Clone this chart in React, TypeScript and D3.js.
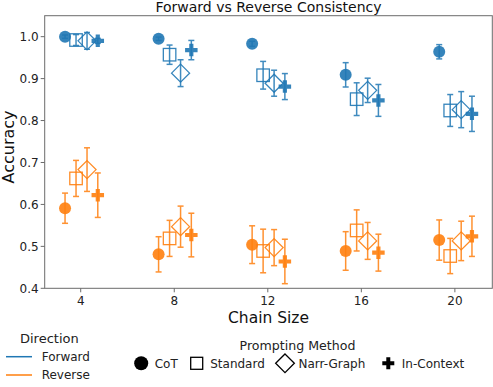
import React from 'react';
import * as d3 from 'd3';

const sizes = [4, 8, 12, 16, 20];
const methods = ['CoT', 'Standard', 'Narr-Graph', 'In-Context'];
const offsets = [-0.67, -0.2, 0.27, 0.73];

const forwardMean = [
  [1.0, 0.995, 0.983, 0.909, 0.964],
  [0.992, 0.957, 0.908, 0.851, 0.824],
  [0.99, 0.913, 0.889, 0.872, 0.826],
  [0.99, 0.968, 0.881, 0.848, 0.816],
];
const forwardErr = [
  [0.004, 0.004, 0.006, 0.029, 0.017],
  [0.013, 0.023, 0.033, 0.039, 0.038],
  [0.02, 0.032, 0.031, 0.029, 0.043],
  [0.006, 0.023, 0.031, 0.038, 0.042],
];
const reverseMean = [
  [0.591, 0.481, 0.504, 0.489, 0.515],
  [0.662, 0.519, 0.489, 0.538, 0.477],
  [0.683, 0.547, 0.497, 0.513, 0.513],
  [0.622, 0.527, 0.464, 0.485, 0.524],
];
const reverseErr = [
  [0.036, 0.042, 0.045, 0.046, 0.048],
  [0.043, 0.043, 0.052, 0.049, 0.042],
  [0.052, 0.049, 0.043, 0.044, 0.047],
  [0.053, 0.052, 0.053, 0.044, 0.048],
];
const yTicks = [0.4, 0.5, 0.6, 0.7, 0.8, 0.9, 1.0];

const directions = [
  { name: 'Forward', color: '#1f77b4', mean: forwardMean, err: forwardErr },
  { name: 'Reverse', color: '#ff7f0e', mean: reverseMean, err: reverseErr },
];

const font = 'DejaVu Sans, sans-serif';

// marker shapes, centred on 0,0
function marker(kind: number, s: number, color: string) {
  if (kind === 0) return <circle r={s / 2} fill={color} />;
  if (kind === 1)
    return <rect x={-s / 2} y={-s / 2} width={s} height={s} fill="none" stroke={color} strokeWidth={1.3} />;
  if (kind === 2) {
    const h = s * 0.72;
    return <path d={`M0,${-h}L${h},0L0,${h}L${-h},0Z`} fill="none" stroke={color} strokeWidth={1.3} />;
  }
  const w = s / 2, t = s / 6;
  return (
    <path
      d={`M${-t},${-w}H${t}V${-t}H${w}V${t}H${t}V${w}H${-t}V${t}H${-w}V${-t}H${-t}Z`}
      fill={color}
    />
  );
}

const App = () => {
  const left = 44.7, right = 492.3, top = 15.7, bottom = 288.3;
  const x = d3.scaleLinear().domain([2.46, 21.6]).range([left, right]);
  const y = d3.scaleLinear().domain([0.4, 1.05]).range([bottom, top]);

  return (
    <svg width={493} height={387} style={{ position: 'absolute', left: 0, top: 0 }} fontFamily={font}>
      <rect width={493} height={387} fill="#fff" />
      {directions.map(dir =>
        methods.map((m, mi) =>
          sizes.map((s, si) => {
            const cx = x(s + offsets[mi]);
            const v = dir.mean[mi][si];
            const e = dir.err[mi][si];
            const y0 = y(v - e), y1 = y(v + e);
            return (
              <g key={`${dir.name}-${m}-${s}`}>
                <g stroke={dir.color} strokeWidth={1.5} opacity={0.85}>
                  <line x1={cx} x2={cx} y1={y0} y2={y1} />
                  <line x1={cx - 3} x2={cx + 3} y1={y0} y2={y0} />
                  <line x1={cx - 3} x2={cx + 3} y1={y1} y2={y1} />
                </g>
                <g transform={`translate(${cx},${y(v)})`} opacity={0.9}>
                  {marker(mi, mi === 0 ? 12 : 12.5, dir.color)}
                </g>
              </g>
            );
          })
        )
      )}

      {/* frame */}
      <rect x={left} y={top} width={right - left} height={bottom - top} fill="none" stroke="#6b6b6b" strokeWidth={1} />

      {/* y axis */}
      {yTicks.map(t => (
        <g key={t} transform={`translate(${left},${y(t)})`}>
          <line x1={-4} x2={0} stroke="#6b6b6b" />
          <text x={-6} dy="0.35em" textAnchor="end" fontSize={12} fill="#222">
            {d3.format('.1f')(t)}
          </text>
        </g>
      ))}
      {/* x axis */}
      {sizes.map(t => (
        <g key={t} transform={`translate(${x(t)},${bottom})`}>
          <line y1={0} y2={4} stroke="#6b6b6b" />
          <text y={17} textAnchor="middle" fontSize={12} fill="#222">
            {t}
          </text>
        </g>
      ))}

      <text x={(left + right) / 2} y={11.5} textAnchor="middle" fontSize={14} fill="#111">
        Forward vs Reverse Consistency
      </text>
      <text x={(left + right) / 2} y={322.5} textAnchor="middle" fontSize={15.5} fill="#111">
        Chain Size
      </text>
      <text transform={`translate(14,147) rotate(-90)`} textAnchor="middle" fontSize={16} fill="#111">
        Accuracy
      </text>

      {/* direction legend */}
      <text x={20} y={343} fontSize={13} fill="#222">Direction</text>
      {directions.map((dir, i) => (
        <g key={dir.name} transform={`translate(0,${356.7 + i * 18.3})`}>
          <line x1={6} x2={32} stroke={dir.color} strokeWidth={1.5} />
          <text x={41.7} dy="0.35em" fontSize={12} fill="#222">{dir.name}</text>
        </g>
      ))}

      {/* method legend */}
      <text x={297.5} y={350} textAnchor="middle" fontSize={12.6} fill="#222">Prompting Method</text>
      {methods.map((m, i) => {
        const mx = [141.2, 196.7, 285, 388.3][i];
        return (
          <g key={m} transform={`translate(${mx},363.3)`}>
            {marker(i, i === 0 ? 14 : i === 2 ? 13 : 12, '#000')}
            <text x={13.5} dy="0.35em" fontSize={12} fill="#222">{m}</text>
          </g>
        );
      })}
    </svg>
  );
};

export default App;
